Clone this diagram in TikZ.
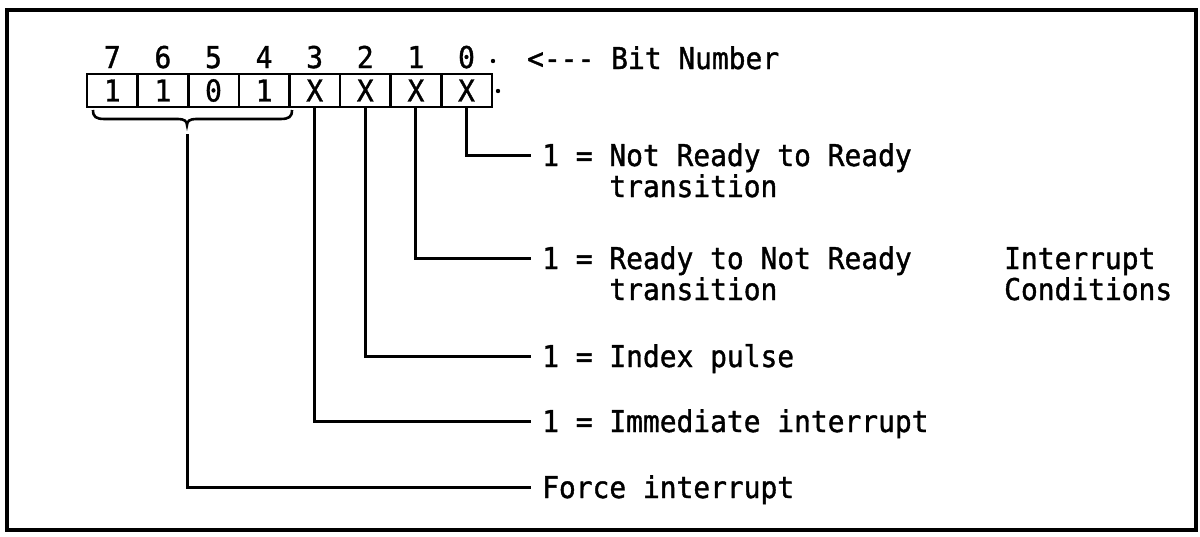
\documentclass[tikz,border=0pt]{standalone}
\usepackage{fontspec}
\setmonofont[FakeStretch=0.93,FakeBold=1.2]{DejaVu Sans Mono}
\begin{document}
\begin{tikzpicture}[x=1pt,y=-1pt,
  every node/.style={font=\ttfamily\fontsize{30pt}{31pt}\selectfont},
  ln/.style={line width=3pt},
  cell/.style={draw, line width=2.6pt, minimum width=50.6pt, minimum height=33pt, inner sep=0pt},
  lab/.style={anchor=west, inner xsep=11pt, inner ysep=0pt, text height=22pt, text depth=0pt},
  txt/.style={anchor=west, inner sep=0pt, text height=22pt, text depth=0pt},
]
\useasboundingbox (0,0) rectangle (1200,536);
\draw[line width=3.2pt] (7,10) rectangle (1196,530);

% register cells and bit numbers
\foreach \b/\v [count=\i from 0] in {7/1,6/1,5/0,4/1,3/X,2/X,1/X,0/X}{
  \node[cell] (c\b) at ({87+50.6*(\i+0.5)},90.5) {\v};
  \node[txt, anchor=center] (d\b) at ({87+50.6*(\i+0.5)},57) {\b};
}
\fill (493,61) circle (2.2);
\fill (498,91) circle (2.2);
\node[txt] (bn) at (527,58) {<{-}{-}{-} Bit Number};

% brace under bits 7..4
\coordinate (bt) at (187,125);
\coordinate (bv) at (187,134);
\draw[line width=2.6pt] (93,110) .. controls (93,117) and (96,119) .. (105,119) -- (178,119)
  .. controls (184,119) and (187,121) .. (bt)
  .. controls (187,121) and (190,119) .. (196,119) -- (280,119)
  .. controls (289,119) and (292,117) .. (292,110);

% labels
\node[lab] (l0) at (531,155) {1 = Not Ready to Ready};
\node[lab] (l0b) at (598.2,186) {transition};
\node[lab] (l1) at (531,258) {1 = Ready to Not Ready};
\node[lab] (l1b) at (598.2,289) {transition};
\node[lab] (l2) at (531,356) {1 = Index pulse};
\node[lab] (l3) at (531,421) {1 = Immediate interrupt};
\node[lab] (l4) at (531,487) {Force interrupt};
\node[txt] (ic1) at (1004,258) {Interrupt};
\node[txt] (ic2) at (1004,289) {Conditions};

% connectors
\draw[ln] (c0.south) |- (l0.west);
\draw[ln] (c1.south) |- (l1.west);
\draw[ln] (c2.south) |- (l2.west);
\draw[ln] (c3.south) |- (l3.west);
\draw[ln] (bv) |- (l4.west);
\end{tikzpicture}
\end{document}
